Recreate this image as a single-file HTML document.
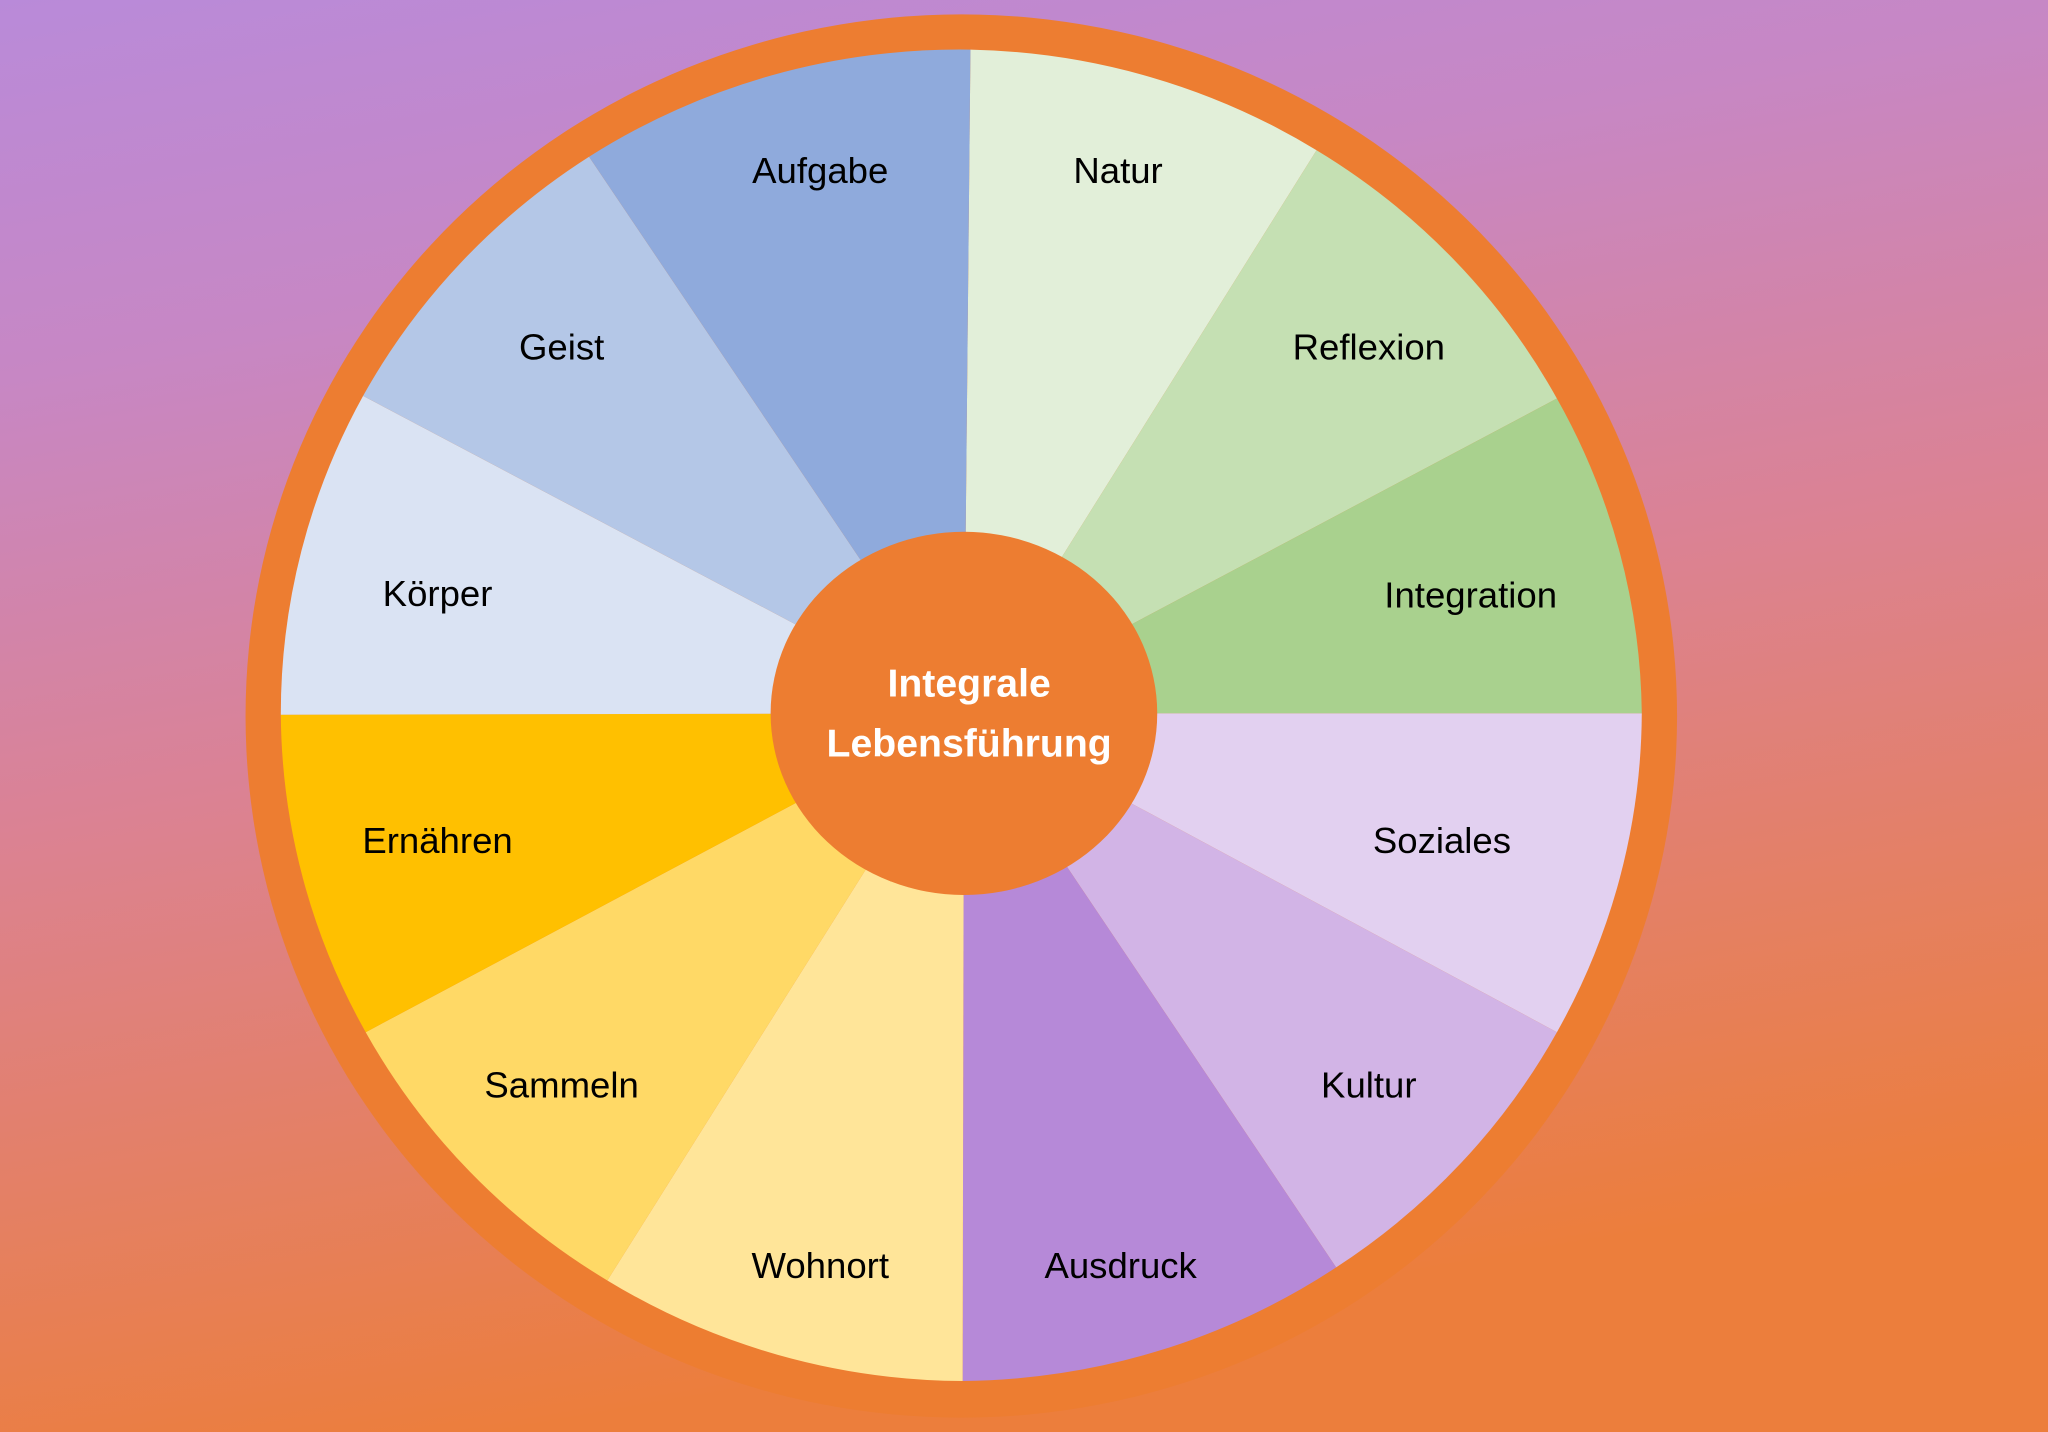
<!DOCTYPE html>
<html><head><meta charset="utf-8"><style>
html,body{margin:0;padding:0;width:2048px;height:1432px;overflow:hidden;}
svg{display:block}
</style></head><body>
<svg width="2048" height="1432" viewBox="0 0 1568 1096" preserveAspectRatio="none" xmlns="http://www.w3.org/2000/svg">
<defs>
<linearGradient id="bg" x1="0" y1="0" x2="0.25" y2="1">
<stop offset="0" stop-color="#b98ad9"/>
<stop offset="0.25" stop-color="#c787c4"/>
<stop offset="0.55" stop-color="#db8293"/>
<stop offset="1" stop-color="#ec7e3c"/>
</linearGradient>
</defs>
<rect width="1568" height="1096" fill="url(#bg)"/>
<ellipse cx="736" cy="548" rx="548" ry="537" fill="#ed7d31"/>
<g stroke="none">
<path d="M738 546 L743 38 A521 510 0 0 1 1008 115 Z" fill="#e2efd9"/>
<path d="M738 546 L1008 115 A521 510 0 0 1 1192 305 Z" fill="#c5e0b3"/>
<path d="M738 546 L1192 305 A521 510 0 0 1 1257 546 Z" fill="#a9d18e"/>
<path d="M738 546 L1257 546 A521 510 0 0 1 1192 790 Z" fill="#e2d0f0"/>
<path d="M738 546 L1192 790 A521 510 0 0 1 1023 970 Z" fill="#d2b4e6"/>
<path d="M738 546 L1023 970 A521 510 0 0 1 737 1057 Z" fill="#b689d8"/>
<path d="M738 546 L737 1057 A521 510 0 0 1 465 980 Z" fill="#ffe599"/>
<path d="M738 546 L465 980 A521 510 0 0 1 280 790 Z" fill="#ffd966"/>
<path d="M738 546 L280 790 A521 510 0 0 1 215 547 Z" fill="#ffc000"/>
<path d="M738 546 L215 547 A521 510 0 0 1 278 303 Z" fill="#dae3f3"/>
<path d="M738 546 L278 303 A521 510 0 0 1 451 120 Z" fill="#b4c7e7"/>
<path d="M738 546 L451 120 A521 510 0 0 1 743 38 Z" fill="#8faadc"/>
</g>
<ellipse cx="738" cy="546" rx="148" ry="139" fill="#ed7d31"/>
<g font-family="Liberation Sans, sans-serif" font-size="28" fill="#000" text-anchor="middle">
<text x="628" y="140">Aufgabe</text>
<text x="856" y="140">Natur</text>
<text x="430" y="275">Geist</text>
<text x="1048" y="275">Reflexion</text>
<text x="335" y="464">Körper</text>
<text x="1126" y="465">Integration</text>
<text x="335" y="653">Ernähren</text>
<text x="1104" y="653">Soziales</text>
<text x="430" y="840">Sammeln</text>
<text x="1048" y="840">Kultur</text>
<text x="628" y="978">Wohnort</text>
<text x="858" y="978">Ausdruck</text>
</g>
<g font-family="Liberation Sans, sans-serif" font-size="30" font-weight="bold" fill="#fff" text-anchor="middle">
<text x="742" y="533">Integrale</text>
<text x="742" y="579">Lebensführung</text>
</g>
</svg>
</body></html>
